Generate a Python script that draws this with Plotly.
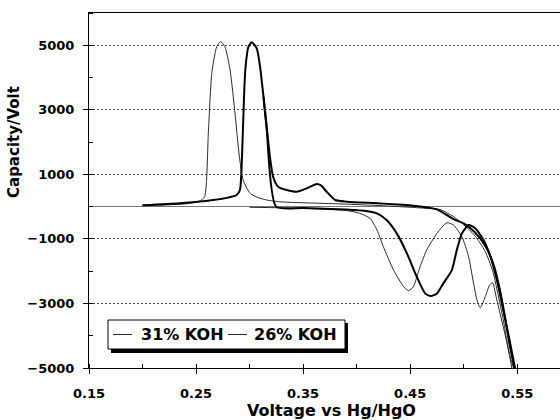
import plotly.graph_objects as go

# ---- data ----
v_31a = [0.200, 0.220, 0.244, 0.2537, 0.258, 0.2616, 0.2647, 0.2693, 0.273, 0.277, 0.2818, 0.2864,
         0.2905, 0.294, 0.3005, 0.308, 0.316, 0.3285, 0.350, 0.380, 0.410, 0.440, 0.460, 0.478,
         0.490, 0.500, 0.510, 0.520, 0.527, 0.532, 0.537, 0.541, 0.545]
c_31a = [30, 50, 100, 180, 307, 2375, 4130, 4955, 5110, 4955, 4233, 2890,
         1547, 824, 412, 280, 205, 150, 120, 90, 50, 0, -40, -90,
         -300, -560, -880, -1380, -1980, -2700, -3500, -4300, -5000]

v_31b = [0.300, 0.350, 0.390, 0.403, 0.4126, 0.419, 0.425, 0.4345, 0.444, 0.4486, 0.453, 0.4593,
         0.4655, 0.475, 0.4843, 0.4905, 0.4984, 0.5046, 0.5087, 0.5124, 0.5155, 0.5202, 0.5242,
         0.527, 0.531, 0.537, 0.5435, 0.5467]
c_31b = [-20, -50, -120, -208, -363, -725, -1243, -1965, -2482, -2606, -2482, -1862,
         -1345, -828, -499, -570, -933, -1553, -2275, -2895, -3133, -2792, -2430,
         -2358, -2895, -3722, -4652, -5011]

v_26a = [0.200, 0.235, 0.266, 0.280, 0.288, 0.291, 0.2927, 0.2943, 0.296, 0.299, 0.302, 0.3067,
         0.3098, 0.313, 0.316, 0.319, 0.322, 0.3267, 0.3347, 0.344, 0.3533, 0.3628, 0.367, 0.372,
         0.380, 0.391, 0.422, 0.453, 0.475, 0.490, 0.500, 0.510, 0.520, 0.528, 0.534, 0.539,
         0.543, 0.5475]
c_26a = [40, 102, 205, 280, 360, 514, 1342, 2891, 4233, 4955, 5090, 4905,
         4336, 3406, 2476, 1546, 927, 617, 514, 462, 567, 700, 650, 462,
         205, 152, 100, 30, -84, -380, -520, -780, -1200, -1800, -2600, -3500,
         -4300, -5000]

v_26b = [0.313, 0.316, 0.3248, 0.350, 0.390, 0.410, 0.419, 0.428, 0.4375, 0.447, 0.4562, 0.464,
         0.4693, 0.475, 0.481, 0.489, 0.4936, 0.4984, 0.5046, 0.5108, 0.5186, 0.525, 0.531,
         0.537, 0.5435, 0.548]
c_26b = [3406, 2400, 0, -40, -90, -140, -208, -415, -828, -1448, -2172, -2688,
         -2771, -2688, -2378, -1965, -1345, -828, -570, -673, -1035, -1553, -2275,
         -3205, -4237, -5011]

series_31 = "31% KOH"
series_26 = "26% KOH"

y_ticks = [-5000, -3000, -1000, 1000, 3000, 5000]
x_ticks = [0.15, 0.25, 0.35, 0.45, 0.55]

FONT = "DejaVu Sans"

fig = go.Figure()
thin = dict(color="#2a2a2a", width=1, shape="spline", smoothing=0.6)
thick = dict(color="black", width=2, shape="spline", smoothing=0.6)

fig.add_trace(go.Scatter(x=v_31a, y=c_31a, mode="lines", line=thin, name=series_31))
fig.add_trace(go.Scatter(x=v_31b, y=c_31b, mode="lines", line=thin, name=series_31))
fig.add_trace(go.Scatter(x=v_26a, y=c_26a, mode="lines", line=thick, name=series_26))
fig.add_trace(go.Scatter(x=v_26b, y=c_26b, mode="lines", line=thick, name=series_26))

W, H = 560, 420
L, R, T, B = 89, 0, 13, 52
pw, ph = W - L - R, H - T - B

def px_x(px):
    return (px - L) / pw

def px_y(py):
    return (H - B - py) / ph

shapes = []
annotations = []
# legend: shadow, box, line samples, labels
shapes.append(dict(type="rect", xref="paper", yref="paper",
                   x0=px_x(111), x1=px_x(348), y0=px_y(353), y1=px_y(323),
                   fillcolor="black", line=dict(width=0), layer="above"))
shapes.append(dict(type="rect", xref="paper", yref="paper",
                   x0=px_x(108), x1=px_x(345), y0=px_y(349), y1=px_y(320),
                   fillcolor="white", line=dict(color="black", width=1), layer="above"))
leg_y = px_y(334.5)
for (x0, x1, tx, name) in [(113, 132, 139, series_31), (228, 247, 252, series_26)]:
    shapes.append(dict(type="line", xref="paper", yref="paper",
                       x0=px_x(x0), x1=px_x(x1), y0=leg_y, y1=leg_y,
                       line=dict(color="#2a2a2a", width=1), layer="above"))
    annotations.append(dict(text=name, xref="paper", yref="paper", x=px_x(tx), y=leg_y,
                            xanchor="left", yanchor="middle", showarrow=False,
                            font=dict(family=FONT, size=16, color="black", weight="bold")))

annotations += [
    dict(text="Voltage vs Hg/HgO", xref="paper", yref="paper",
         x=px_x(331), y=px_y(410), xanchor="center", yanchor="middle",
         showarrow=False, font=dict(family=FONT, size=16, color="black", weight="bold")),
    dict(text="Capacity/Volt", xref="paper", yref="paper",
         x=px_x(14), y=px_y(142), xanchor="center", yanchor="middle",
         textangle=-90, showarrow=False,
         font=dict(family=FONT, size=15, color="black", weight="bold")),
]

fig.update_layout(
    width=W, height=H,
    margin=dict(l=L, r=R, t=T, b=B, pad=0),
    paper_bgcolor="white", plot_bgcolor="white",
    font=dict(family=FONT, color="black"),
    showlegend=False,
    shapes=shapes,
    annotations=annotations,
    xaxis=dict(range=[0.15, 0.59], tickvals=x_ticks, tickformat=".2f",
               showline=True, linecolor="black", linewidth=1, mirror=True,
               ticks="outside", ticklen=5, tickcolor="black",
               ticklabelstandoff=8,
               tickfont=dict(family=FONT, size=13, color="black", weight="bold"),
               minor=dict(dtick=0.05, tick0=0.15, ticks="inside", ticklen=4, tickcolor="black"),
               showgrid=False, zeroline=False),
    yaxis=dict(range=[-5000, 6000], tickvals=y_ticks,
               showline=True, linecolor="black", linewidth=1,
               ticks="outside", ticklen=5, tickcolor="black",
               ticklabelstandoff=6,
               tickfont=dict(family=FONT, size=13, color="black", weight="bold"),
               minor=dict(dtick=1000, tick0=0, ticks="inside", ticklen=4, tickcolor="black"),
               showgrid=True, gridcolor="#444", griddash="2px,2px", gridwidth=1,
               zeroline=True, zerolinecolor="#777", zerolinewidth=1),
)

fig.write_html("out.html")
